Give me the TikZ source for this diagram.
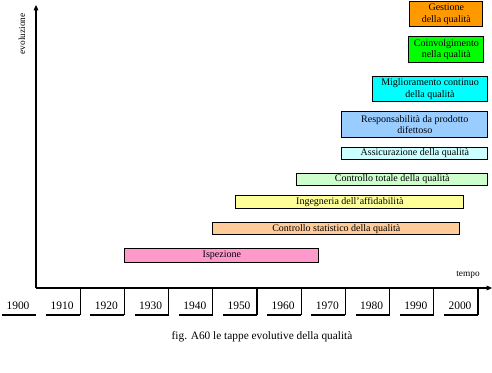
\documentclass[tikz,border=0pt]{standalone}
\usepackage{fontspec}
\setmainfont{Liberation Serif}
\usetikzlibrary{arrows.meta}
\definecolor{cIsp}{HTML}{FF99CC}
\definecolor{cStat}{HTML}{FFCC99}
\definecolor{cIng}{HTML}{FFFF99}
\definecolor{cTot}{HTML}{CCFFCC}
\definecolor{cAss}{HTML}{CCFFFF}
\definecolor{cResp}{HTML}{99CCFF}
\definecolor{cMigl}{HTML}{00FFFF}
\definecolor{cCoin}{HTML}{00FF00}
\definecolor{cGest}{HTML}{FF9900}
\tikzset{
  bar/.style={draw=black, line width=0.8pt, inner sep=0pt, anchor=north west,
    align=center, font=\fontsize{7.5}{8.6}\selectfont},
  axisline/.style={line width=0.8pt, -{Triangle[length=4pt,width=3.5pt]}},
  cellline/.style={line width=0.8pt},
  yearlbl/.style={font=\fontsize{8.6}{10}\selectfont, inner sep=0pt},
  axislbl/.style={font=\fontsize{7}{8}\selectfont, inner sep=0pt},
  caption/.style={font=\fontsize{8.5}{10}\selectfont, inner sep=0pt}
}
\begin{document}
\begin{tikzpicture}[x=0.75pt,y=-0.75pt]
\path[use as bounding box, fill=white] (0,0) rectangle (492,373);
% axes
\coordinate (O) at (36,288);
\coordinate (ytop) at (36,5);
\coordinate (xend) at (492,288);
\draw[axisline] (O) -- (ytop);
\draw[axisline] (O) -- (xend);
\node[axislbl, rotate=90] (evo) at (22,34) {evoluzione};
\node[axislbl] (tempo) at (468,275) {tempo};
% year cells
\foreach \k in {0,...,10} {
  \pgfmathsetmacro{\r}{36+44.2*\k}
  \pgfmathtruncatemacro{\yr}{1900+10*\k}
  \coordinate (bl\k) at ({max(\r-34,2)},315);
  \coordinate (br\k) at (\r,315);
  \coordinate (tr\k) at (\r,288);
  \draw[cellline] (bl\k) -- (br\k);
  \ifnum\k>0 \draw[cellline] (tr\k) -- (br\k); \fi
  \node[yearlbl] (y\yr) at (\r-18,306) {\yr};
}
% bars
\node[bar, fill=cIsp, minimum width=145.5pt, minimum height=10pt] (isp) at (124.3,248.3) {Ispezione};
\node[bar, fill=cStat, minimum width=185.25pt, minimum height=9pt] (stat) at (212.3,222.3) {Controllo statistico della qualità};
\node[bar, fill=cIng, minimum width=171pt, minimum height=9.75pt] (ing) at (235.3,195.3) {Ingegneria dell’affidabilità};
\node[bar, fill=cTot, minimum width=143.5pt, minimum height=9.5pt] (tot) at (296,172.7) {Controllo totale della qualità};
\node[bar, fill=cAss, minimum width=109.5pt, minimum height=9.5pt] (ass) at (341.3,146.7) {Assicurazione della qualità};
\node[bar, fill=cResp, minimum width=109.5pt, minimum height=19.3pt] (resp) at (341.3,111) {Responsabilità da prodotto\\difettoso};
\node[bar, fill=cMigl, minimum width=85.8pt, minimum height=18.5pt] (migl) at (372.3,76.3) {Miglioramento continuo\\della qualità};
\node[bar, fill=cCoin, minimum width=56.25pt, minimum height=19.3pt] (coin) at (408.3,36) {Coinvolgimento\\nella qualità};
\node[bar, fill=cGest, minimum width=54.75pt, minimum height=18.75pt] (gest) at (409.3,1) {Gestione\\della qualità};
% caption
\node[caption] (cap) at (262,337) {fig. A60 le tappe evolutive della qualità};
\end{tikzpicture}
\end{document}
